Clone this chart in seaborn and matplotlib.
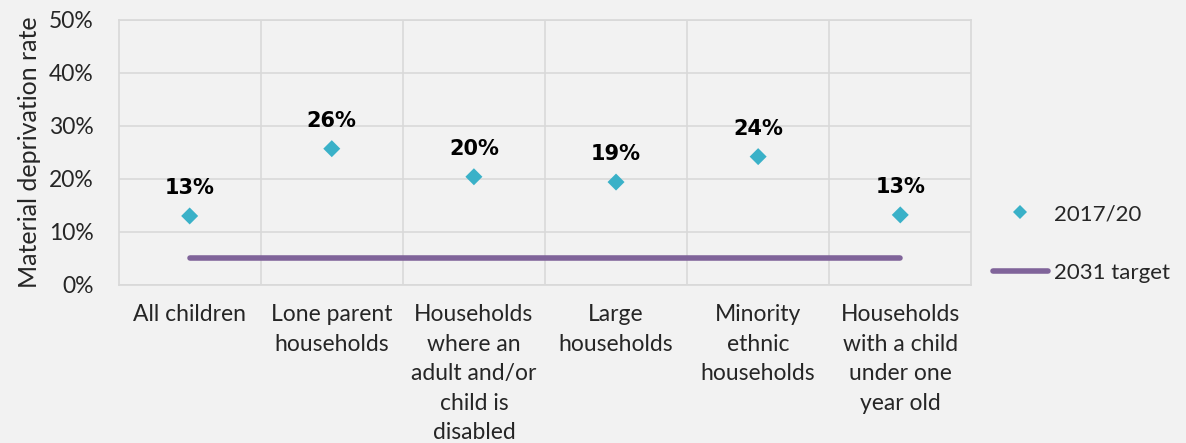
import matplotlib
matplotlib.use("Agg")
import matplotlib.pyplot as plt
import seaborn as sns
import pandas as pd
from matplotlib.lines import Line2D

categories = [
    "All children",
    "Lone parent\nhouseholds",
    "Households\nwhere an\nadult and/or\nchild is\ndisabled",
    "Large\nhouseholds",
    "Minority\nethnic\nhouseholds",
    "Households\nwith a child\nunder one\nyear old",
]
rate_2017_20 = [13.0, 25.7, 20.4, 19.4, 24.2, 13.2]
target_2031 = [5, 5, 5, 5, 5, 5]
y_ticks = [0, 10, 20, 30, 40, 50]

bg = "#F2F2F2"
teal = "#3AB1C8"
purple = "#80649A"
grid = "#D9D9D9"

sns.set_theme(style="white")
plt.rcParams["font.family"] = ["Lato", "DejaVu Sans"]

df = pd.DataFrame({"pos": range(len(categories)), "rate": rate_2017_20, "target": target_2031})

fig, ax = plt.subplots(figsize=(11.86, 4.43), dpi=100)
fig.patch.set_facecolor(bg)
ax.set_facecolor(bg)
fig.subplots_adjust(left=0.1, right=0.819, top=0.955, bottom=0.357)

sns.lineplot(data=df, x="pos", y="target", ax=ax, color=purple, linewidth=4,
             solid_capstyle="round", zorder=2)
sns.scatterplot(data=df, x="pos", y="rate", ax=ax, marker="D", s=75, color=teal,
                edgecolor="none", zorder=3)

for x, v in zip(df["pos"], rate_2017_20):
    ax.annotate(f"{v:.0f}%", (x, v), xytext=(0, 13), textcoords="offset points",
                ha="center", va="bottom", fontsize=15, fontweight="bold",
                family=["DejaVu Sans"], color="#000000")

ax.set_xlim(-0.5, len(categories) - 0.5)
ax.set_ylim(0, 50)
ax.set_yticks(y_ticks)
ax.set_yticklabels([f"{t}%" for t in y_ticks], fontsize=16.5)
ax.set_xticks(range(len(categories)))
ax.set_xticklabels(categories, fontsize=16.5, linespacing=1.5, va="top")
ax.set_xticks([i + 0.5 for i in range(len(categories) - 1)], minor=True)
ax.tick_params(axis="y", length=0, pad=18)
ax.tick_params(axis="x", length=0, pad=14)
ax.grid(axis="y", color=grid, linewidth=1.2)
ax.grid(axis="x", which="minor", color=grid, linewidth=1.2)
ax.set_axisbelow(True)
for side in ["left", "right", "top", "bottom"]:
    ax.spines[side].set_visible(True)
    ax.spines[side].set_color(grid)
ax.set_xlabel("")
ax.set_ylabel("Material deprivation rate", fontsize=18, labelpad=6)

handles = [
    Line2D([], [], marker="D", linestyle="none", color=teal, markersize=7.5, markeredgewidth=0),
    Line2D([], [], color=purple, linewidth=4, solid_capstyle="round"),
]
fig.legend(handles, ["2017/20", "2031 target"], loc="center left",
           bbox_to_anchor=(0.82, 0.45), frameon=False, fontsize=16,
           handlelength=2.5, labelspacing=1.75, handletextpad=0.25)

fig.savefig("out.png", dpi=100, facecolor=bg)
